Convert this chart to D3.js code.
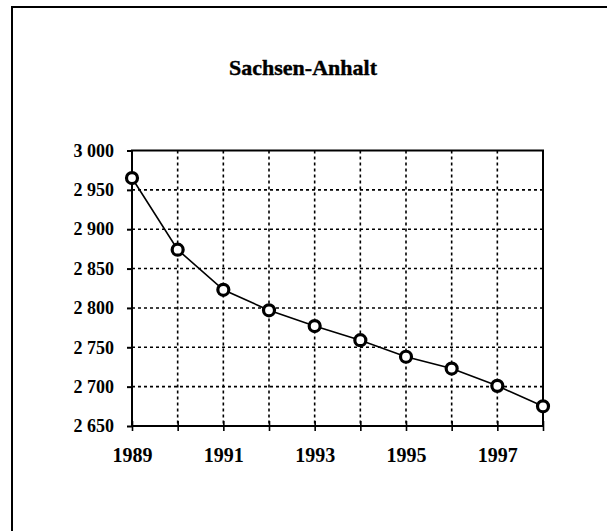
<!DOCTYPE html>
<html><head><meta charset="utf-8">
<script src="https://cdn.jsdelivr.net/npm/d3@7"></script>
<style>body{margin:0;background:#fff}svg{display:block}</style>
</head><body>
<script>
const title = "Sachsen-Anhalt";
const years = [1989,1990,1991,1992,1993,1994,1995,1996,1997,1998];
const values = [2965,2874,2823,2797,2777,2759,2738,2723,2701,2675];
const yTicks = [2650,2700,2750,2800,2850,2900,2950,3000];
const xLabelYears = [1989,1991,1993,1995,1997];

const W = 607, H = 531;
const m = {left:132, top:150.5, right:543, bottom:426};
const svg = d3.select("body").append("svg").attr("width",W).attr("height",H);

// outer frame (right/bottom edges lie outside the picture)
svg.append("rect").attr("x",12).attr("y",7).attr("width",W+20).attr("height",H+20)
  .attr("fill","none").attr("stroke","#000").attr("stroke-width",2);

svg.append("text").attr("x",303).attr("y",75).attr("text-anchor","middle")
  .attr("font-family","Liberation Serif, Times New Roman, serif").attr("font-weight","bold")
  .attr("font-size",22).attr("stroke","#000").attr("stroke-width",0.4).text(title);

const x = d3.scaleLinear().domain([1989,1998]).range([m.left,m.right]);
const y = d3.scaleLinear().domain([2650,3000]).range([m.bottom,m.top]);

const grid = svg.append("g").attr("stroke","#000").attr("stroke-width",1.6).attr("stroke-dasharray","3,3");
grid.selectAll(".v").data(years.slice(1,-1)).join("line")
  .attr("x1",d=>x(d)).attr("x2",d=>x(d)).attr("y1",m.top).attr("y2",m.bottom);
grid.selectAll(".h").data(yTicks.slice(1,-1)).join("line")
  .attr("x1",m.left).attr("x2",m.right).attr("y1",d=>y(d)).attr("y2",d=>y(d));

// frame
svg.append("rect").attr("x",m.left).attr("y",m.top).attr("width",m.right-m.left).attr("height",m.bottom-m.top)
  .attr("fill","none").attr("stroke","#000").attr("stroke-width",2);

// y axis
const ya = svg.append("g").attr("transform",`translate(${m.left},0)`)
  .call(d3.axisLeft(y).tickValues(yTicks).tickSize(5).tickPadding(13)
    .tickFormat(d=>d3.format(",")(d).replace(","," ")));
ya.select(".domain").remove();
ya.selectAll("line").attr("stroke","#000").attr("stroke-width",2);
ya.selectAll("text").attr("font-family","Liberation Serif, Times New Roman, serif").attr("font-weight","bold")
  .attr("font-size",18).attr("fill","#000");

// x axis with crossing ticks
const xa = svg.append("g").attr("transform",`translate(0,${m.bottom})`)
  .call(d3.axisBottom(x).tickValues(years).tickSize(0).tickFormat(d=>xLabelYears.includes(d)?d:""));
xa.select(".domain").remove();
xa.selectAll(".tick line").attr("y1",-5).attr("y2",5).attr("stroke","#000").attr("stroke-width",1.6);
xa.selectAll("text").attr("y",36).attr("dy",0).attr("font-family","Liberation Serif, Times New Roman, serif")
  .attr("font-weight","bold").attr("font-size",20).attr("fill","#000");

const line = d3.line().x((d,i)=>x(years[i])).y(d=>y(d));
svg.append("path").datum(values).attr("d",line).attr("fill","none").attr("stroke","#000").attr("stroke-width",1.6);

svg.selectAll(".pt").data(values).join("circle")
  .attr("cx",(d,i)=>x(years[i])).attr("cy",d=>y(d)).attr("r",5.5)
  .attr("fill","#fff").attr("stroke","#000").attr("stroke-width",3.2);
</script>
</body></html>
